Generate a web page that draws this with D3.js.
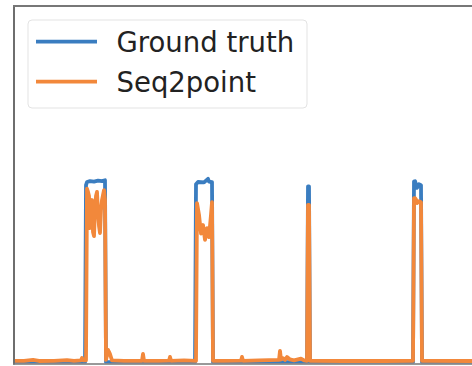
<!DOCTYPE html>
<html>
<head>
<meta charset="utf-8">
<script src="https://cdn.jsdelivr.net/npm/d3@7"></script>
<style>
  body { margin: 0; background: #fff; }
  svg { display: block; }
</style>
</head>
<body>
<div id="chart"></div>
<script>
// sample index vs. power (W)
const groundTruthTime  = [0, 71, 72, 73, 76, 80, 84, 88, 91, 92,
                          181, 182, 184, 190, 194, 195, 198, 199,
                          293, 294, 295, 296,
                          399, 400, 401, 403, 405, 407, 408, 458];
const groundTruthPower = [15, 15, 1990, 2025, 2035, 2030, 2040, 2035, 2045, 15,
                          15, 2000, 2025, 2020, 2060, 2030, 2025, 15,
                          15, 1975, 1975, 15,
                          15, 2030, 2035, 1960, 2000, 1990, 15, 15];

const seq2pointTime  = [0, 10, 19, 25, 40, 53, 60, 67, 68, 69, 72,
                        73, 74, 75, 76, 77, 78, 79, 80, 81, 82, 83, 84, 85, 86, 87, 88, 89, 90, 91,
                        92, 93, 94, 95, 96, 97, 98, 110, 128, 129, 130, 145, 155, 156, 157, 170, 182,
                        183, 185, 187, 189, 191, 193, 195, 197, 198,
                        199, 210, 227, 228, 229, 245, 265, 266, 267, 269, 271, 273, 276, 280, 287, 290, 293,
                        294, 295,
                        296, 330, 370, 399,
                        400, 401, 402, 403, 405, 407,
                        408, 458];
const seq2pointPower = [28, 30, 40, 28, 30, 38, 30, 35, 61, 35, 35,
                        1950, 1915, 1870, 1512, 1768, 1824, 1467, 1422, 1713, 1870, 1915, 1690, 1535, 1456, 1713, 1824, 1880, 1935, 1824,
                        40, 90, 151, 130, 106, 70, 35, 30, 30, 106, 30, 30, 32, 73, 30, 35, 30,
                        1790, 1660, 1450, 1545, 1380, 1510, 1410, 1660, 1800,
                        30, 30, 32, 73, 30, 35, 40, 140, 45, 60, 40, 73, 45, 35, 55, 35, 30,
                        1770, 1770,
                        30, 28, 28, 30,
                        1846, 1846, 1830, 1790, 1810, 1800,
                        30, 28];

const seriesNames  = ["Ground truth", "Seq2point"];
const seriesColors = ["#3a7dc0", "#f2883b"];

const W = 472, H = 366;
const margin = {top: 6, right: -4, bottom: 2.5, left: 14};

const svg = d3.select("#chart").append("svg")
  .attr("width", W)
  .attr("height", H);

const x = d3.scaleLinear()
  .domain([0, 458])
  .range([margin.left, W - margin.right - 4]);

const y = d3.scaleLinear()
  .domain([0, 4000])
  .range([H - margin.bottom, margin.top - 1]);

svg.append("clipPath").attr("id", "plot")
  .append("rect")
    .attr("x", margin.left + 1)
    .attr("y", margin.top)
    .attr("width", W - margin.left)
    .attr("height", H - margin.top - margin.bottom);

const line = d3.line()
  .x(d => x(d[0]))
  .y(d => y(d[1]));

const series = [
  d3.zip(groundTruthTime, groundTruthPower),
  d3.zip(seq2pointTime, seq2pointPower)
];

const g = svg.append("g").attr("clip-path", "url(#plot)");
series.forEach((s, i) => {
  g.append("path")
    .datum(s)
    .attr("d", line)
    .attr("fill", "none")
    .attr("stroke", seriesColors[i])
    .attr("stroke-width", 3.8)
    .attr("stroke-linejoin", "round");
});

// spines (right one is cut off)
svg.append("line")
  .attr("x1", margin.left).attr("x2", margin.left)
  .attr("y1", margin.top - 1).attr("y2", H - margin.bottom + 1)
  .attr("stroke", "#6e6e6e").attr("stroke-width", 2);
svg.append("line")
  .attr("x1", margin.left - 1).attr("x2", W)
  .attr("y1", margin.top).attr("y2", margin.top)
  .attr("stroke", "#777").attr("stroke-width", 2);
svg.append("line")
  .attr("x1", margin.left - 1).attr("x2", W)
  .attr("y1", H - margin.bottom + 0.5).attr("y2", H - margin.bottom + 0.5)
  .attr("stroke", "#777").attr("stroke-width", 1.5);

// legend
const legend = svg.append("g");
legend.append("rect")
  .attr("x", 28).attr("y", 20)
  .attr("width", 279).attr("height", 88)
  .attr("rx", 4)
  .attr("fill", "#fff").attr("fill-opacity", 0.8)
  .attr("stroke", "#e3e3e3").attr("stroke-width", 1);

seriesNames.forEach((name, i) => {
  const cy = 41.7 + i * 40;
  legend.append("line")
    .attr("x1", 36).attr("x2", 97)
    .attr("y1", cy).attr("y2", cy)
    .attr("stroke", seriesColors[i])
    .attr("stroke-width", 3.8);
  legend.append("text")
    .attr("x", 116.5)
    .attr("y", cy + 10)
    .attr("font-family", "DejaVu Sans, sans-serif")
    .attr("font-size", 27.5)
    .attr("fill", "#222")
    .text(name);
});
</script>
</body>
</html>
